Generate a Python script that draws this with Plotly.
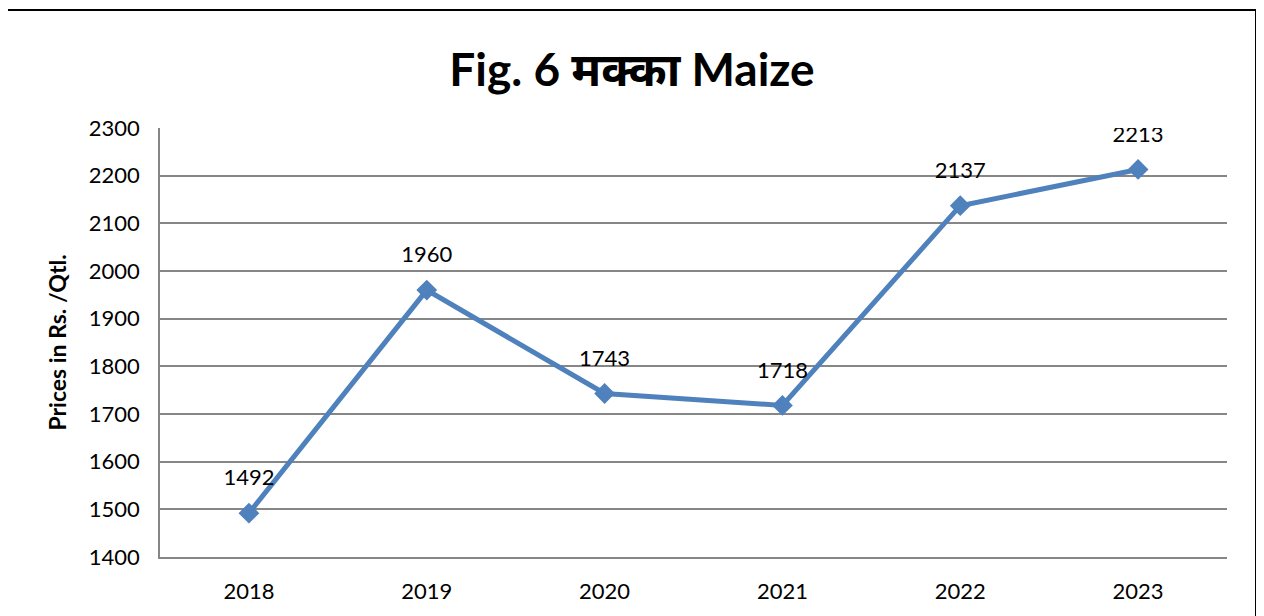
import plotly.graph_objects as go

years = ["2018", "2019", "2020", "2021", "2022", "2023"]
prices = [1492, 1960, 1743, 1718, 2137, 2213]
y_ticks = [1400, 1500, 1600, 1700, 1800, 1900, 2000, 2100, 2200, 2300]

FONT = "Lato, 'Open Sans', sans-serif"
BLUE = "#4F81BD"
OFF = 8  # default page body margin

fig = go.Figure()
fig.add_trace(go.Scatter(
    x=years, y=prices, mode="lines+markers",
    line=dict(color=BLUE, width=5),
    marker=dict(symbol="diamond", size=16, color=BLUE),
    hoverinfo="x+y", showlegend=False,
))
# data labels
fig.add_trace(go.Scatter(
    x=years, y=prices, mode="markers+text",
    text=[str(v) for v in prices], textposition="top center",
    textfont=dict(family=FONT, size=22, color="black"),
    marker=dict(size=34, color="rgba(0,0,0,0)"),
    hoverinfo="skip", showlegend=False,
))

W, H = 1264, 616
L, R_EDGE, T, B_EDGE = 160, 1227, 128, 557
fig.update_layout(
    width=W, height=H,
    margin=dict(l=L - OFF, r=W - (R_EDGE - OFF), t=T - OFF, b=H - (B_EDGE - OFF)),
    paper_bgcolor="white", plot_bgcolor="white",
    title=dict(text="<b>Fig. 6 मक्का Maize</b>", x=(632 - OFF) / W, xanchor="center",
               y=1 - (70 - OFF) / H, yanchor="middle",
               font=dict(family="Lato, 'Noto Sans', sans-serif", size=46, color="black")),
    xaxis=dict(type="category", range=[-0.5, 5.5], showgrid=False,
               showline=True, linecolor="#868686", linewidth=1.5,
               ticks="", tickfont=dict(family=FONT, size=22, color="black"),
               ticklabelstandoff=14),
    yaxis=dict(range=[1400, 2300], tickvals=y_ticks, showgrid=True,
               gridcolor="#868686", gridwidth=1.5,
               showline=True, linecolor="#868686", linewidth=1.5,
               ticks="", tickfont=dict(family=FONT, size=22, color="black"),
               ticklabelstandoff=14,
               title=dict(text="<b>Prices in Rs. /Qtl.</b>", standoff=16,
                          font=dict(family=FONT, size=23, color="black"))),
    shapes=[dict(type="rect", xref="paper", yref="paper",
                 x0=(7 - L) / (R_EDGE - L), x1=(1256 - L) / (R_EDGE - L),
                 y0=(B_EDGE - 640) / (B_EDGE - T), y1=(B_EDGE - 10) / (B_EDGE - T),
                 line=dict(color="black", width=2), fillcolor="rgba(0,0,0,0)",
                 layer="below")],
)

fig.write_html("out.html")
